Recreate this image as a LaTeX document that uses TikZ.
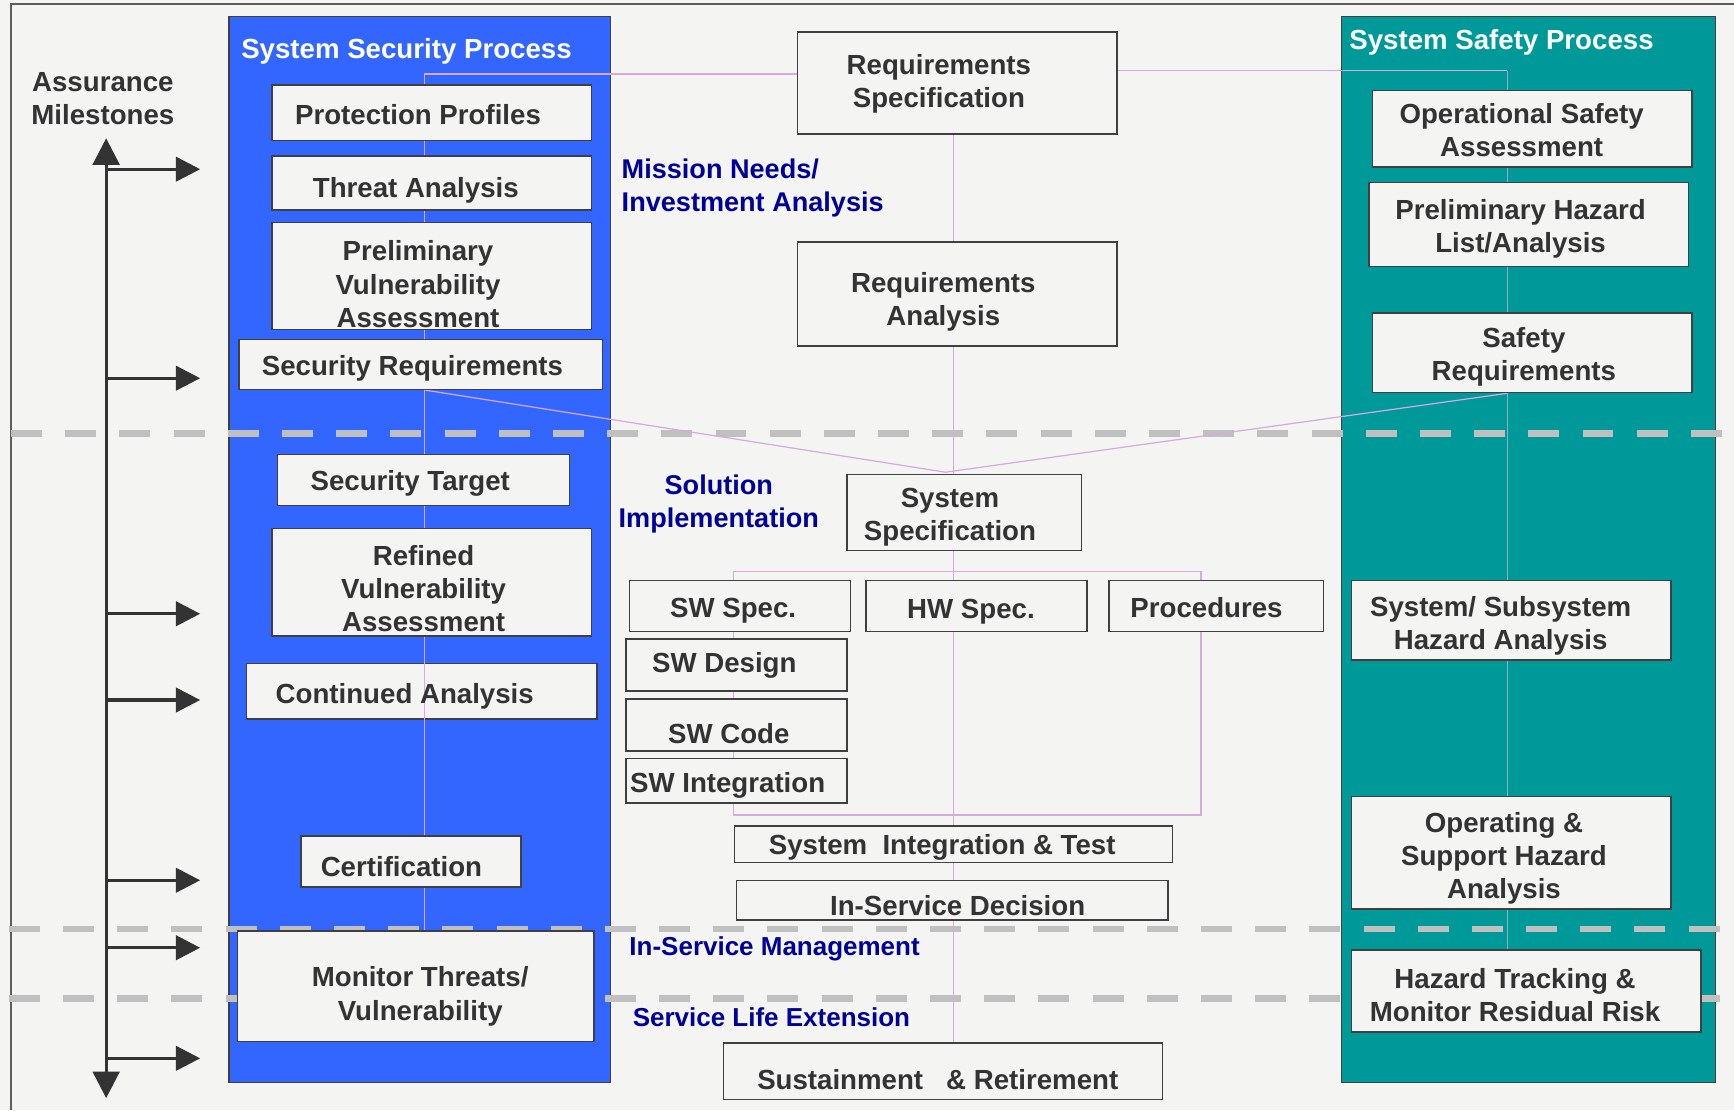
\documentclass[tikz,border=0pt]{standalone}
\usepackage{fontspec}
\setmainfont{Liberation Sans}
\usetikzlibrary{arrows.meta,fit,calc}
\pgfdeclarelayer{back}
\pgfdeclarelayer{links}
\pgfsetlayers{back,links,main}
\definecolor{bg}{RGB}{244,245,242}
\definecolor{secblue}{RGB}{51,102,255}
\definecolor{safeteal}{RGB}{0,153,153}
\definecolor{ink}{RGB}{51,51,51}
\definecolor{phase}{RGB}{0,0,153}
\definecolor{link}{RGB}{216,168,224}
\definecolor{steel}{RGB}{150,172,196}
\definecolor{band}{RGB}{192,192,192}
\definecolor{edge}{RGB}{64,64,64}
\begin{document}
\begin{tikzpicture}[x=1pt,y=-1pt,
  pbox/.style={draw=edge, line width=1.3pt, fill=bg, inner sep=0pt},
  lbl/.style={text=ink, font=\fontsize{25}{30}\selectfont\bfseries, align=center, inner sep=0pt, yshift=-2pt},
  phaselbl/.style={text=phase, font=\fontsize{24.5}{30}\selectfont\bfseries, inner sep=0pt, yshift=-1pt},
  title/.style={text=white, font=\fontsize{25}{30}\selectfont\bfseries, inner sep=0pt, anchor=west, yshift=-2.5pt},
  column/.style={draw=edge, line width=1.2pt},
  conn/.style={draw=link, line width=1.1pt},
  spine/.style={draw=steel, line width=1.3pt},
  phaseline/.style={draw=band, line width=6pt, dash pattern=on 28pt off 21pt},
  mile/.style={draw=ink, line width=3pt, -{Triangle[length=22pt,width=22pt]}},
]
% canvas
\useasboundingbox (0,0) rectangle (1568,1004);
\begin{pgfonlayer}{back}
\fill[bg] (0,0) rectangle (1568,1004);
\draw[edge!85, line width=1.5pt] (10,1004) -- (10,3.5) -- (1568,3.5);
% process columns
\node[column, fill=secblue, inner sep=0pt, fit={(207,15) (552,979)}] (secCol) {};
\node[column, fill=safeteal, inner sep=0pt, fit={(1213,15) (1551,979)}] (safCol) {};
% phase boundaries
\draw[phaseline] (10,392) -- (1568,392);
\draw[phaseline] (8,840) -- (1568,840);
\draw[phaseline] (8,903) -- (1568,903);
\end{pgfonlayer}

\node[title] (secTitle) at (218,44) {System Security Process};
\node[title] (safTitle) at (1220,36) {System Safety Process};

% assurance milestone axis
\node[lbl] (msLabel) at (93,87) {Assurance\\Milestones};
\coordinate (axTop) at (96,125);
\coordinate (axBot) at (96,993);
\draw[ink, line width=3pt, {Triangle[length=24pt,width=24pt]}-{Triangle[length=24pt,width=24pt]}] (axTop) -- (axBot);
\foreach \y [count=\i] in {153,342,555,633,796,857,957}{
  \coordinate (msFrom\i) at (96,\y);
  \coordinate (msTo\i) at (181,\y);
  \draw[mile] (msFrom\i) -- (msTo\i);
}

% process boxes: security column
\node[pbox, fit={(246,77) (535,127)}] (pp) {};
\node[pbox, fit={(246,141) (535,190)}] (ta) {};
\node[pbox, fit={(246,201) (535,298)}] (pva) {};
\node[pbox, fit={(216,307) (545,352)}] (sr) {};
\node[pbox, fit={(251,411) (515,457)}] (st) {};
\node[pbox, fit={(246,478) (535,575)}] (rva) {};
\node[pbox, fit={(223,600) (540,650)}] (ca) {};
\node[pbox, fit={(272,756) (471,802)}] (cert) {};
\node[pbox, fit={(215,842) (537,942)}] (mt) {};

% process boxes: acquisition column
\node[pbox, fit={(721,29) (1010,121)}] (rs) {};
\node[pbox, fit={(721,219) (1010,313)}] (ra) {};
\node[pbox, fit={(766,429) (978,498)}] (sys) {};
\node[pbox, fit={(569,525) (769,571)}] (sws) {};
\node[pbox, fit={(783,525) (983,571)}] (hws) {};
\node[pbox, fit={(1003,525) (1197,571)}] (proc) {};
\node[pbox, fit={(566,578) (766,625)}] (swd) {};
\node[pbox, fit={(566,632) (766,679)}] (swc) {};
\node[pbox, fit={(566,686) (766,726)}] (swi) {};
\node[pbox, fit={(664,747) (1060,780)}] (sit) {};
\node[pbox, fit={(666,796) (1056,832)}] (isd) {};
\node[pbox, fit={(654,943) (1051,994)}] (srr) {};

% process boxes: safety column
\node[pbox, fit={(1241,82) (1530,151)}] (osa) {};
\node[pbox, fit={(1238,165) (1527,241)}] (phl) {};
\node[pbox, fit={(1241,283) (1530,355)}] (safr) {};
\node[pbox, fit={(1222,525) (1511,597)}] (ssha) {};
\node[pbox, fit={(1222,720) (1511,822)}] (osha) {};
\node[pbox, fit={(1222,859) (1538,933)}] (htm) {};

% flow lines, kept behind the boxes
\coordinate (secTop) at (384,67);
\coordinate (safTop) at (1363,64);
\coordinate (axisX) at (862,0);
\coordinate (merge) at (855,427);
\coordinate (treeL) at (663,517);
\coordinate (treeR) at (1086,517);
\coordinate (treeRB) at (1086,737);
\coordinate (treeLB) at (663,737);
\begin{pgfonlayer}{links}
\draw[conn] (rs.west |- secTop) -- (secTop) -- (secTop |- mt.north);
\draw[conn] (rs.east |- safTop) -- (safTop);
\draw[spine] (safTop) -- (safTop |- htm.north);
\draw[conn] (rs.south -| axisX) -- (ra.north -| axisX);
\draw[conn] (ra.south -| axisX) -- (sys.north -| axisX);
\draw[conn] (sr.south -| secTop) -- (merge) -- (safr.south -| safTop);
\draw[conn] (sys.south -| axisX) -- (sit.north -| axisX);
\draw[conn] (treeL) -- (treeR) -- (treeRB) -- (treeLB) -- cycle;
\draw[conn] (sit.south -| axisX) -- (isd.north -| axisX);
\draw[conn] (isd.south -| axisX) -- (srr.north -| axisX);
\end{pgfonlayer}
\draw[conn] (ca.north -| secTop) -- ($(ca.south -| secTop)+(0,10)$);

% text labels
\node[lbl] (ppT) at (378,102) {Protection Profiles};
\node[lbl] (taT) at (376,170) {Threat Analysis};
\node[lbl] (pvaT) at (378,255) {Preliminary\\Vulnerability\\Assessment};
\node[lbl] (srT) at (373,331) {Security Requirements};
\node[lbl] (stT) at (371,435) {Security Target};
\node[lbl] (rvaT) at (383,530) {Refined\\Vulnerability\\Assessment};
\node[lbl] (caT) at (366,628) {Continued Analysis};
\node[lbl] (certT) at (363,782) {Certification};
\node[lbl] (mtT) at (380,899) {Monitor Threats/\\Vulnerability};

\node[lbl] (rsT) at (849,74) {Requirements\\Specification};
\node[lbl] (raT) at (853,271) {Requirements\\Analysis};
\node[lbl] (sysT) at (859,466) {System\\Specification};
\node[lbl] (swsT) at (663,550) {SW Spec.};
\node[lbl] (hwsT) at (878,551) {HW Spec.};
\node[lbl] (procT) at (1091,547) {Procedures};
\node[lbl] (swdT) at (655,600) {SW Design};
\node[lbl] (swcT) at (659,661) {SW Code};
\node[lbl] (swiT) at (658,708) {SW Integration};
\node[lbl] (sitT) at (852,764) {System\ \ Integration \& Test};
\node[lbl] (isdT) at (866,817) {In-Service Decision};
\node[lbl] (srrT) at (848,974) {Sustainment\ \ \ \& Retirement};

\node[lbl] (osaT) at (1376,116) {Operational Safety\\Assessment};
\node[lbl] (phlT) at (1375,205) {Preliminary Hazard\\List/Analysis};
\node[lbl] (safrT) at (1378,321) {Safety\\Requirements};
\node[lbl] (sshaT) at (1357,564) {System/ Subsystem\\Hazard Analysis};
\node[lbl] (oshaT) at (1360,774) {Operating \&\\Support Hazard\\Analysis};
\node[lbl] (htmT) at (1370,898) {Hazard Tracking \&\\Monitor Residual Risk};

% phase names
\node[phaselbl, align=left, anchor=west] (mnia) at (562,169) {Mission Needs/\\Investment Analysis};
\node[phaselbl, align=center] (solimp) at (650,455) {Solution\\Implementation};
\node[phaselbl, anchor=west, font=\fontsize{23.5}{30}\selectfont\bfseries] (ism) at (569,857) {In-Service Management};
\node[phaselbl, anchor=west, font=\fontsize{23.5}{30}\selectfont\bfseries] (sle) at (572,919) {Service Life Extension};
\end{tikzpicture}
\end{document}
